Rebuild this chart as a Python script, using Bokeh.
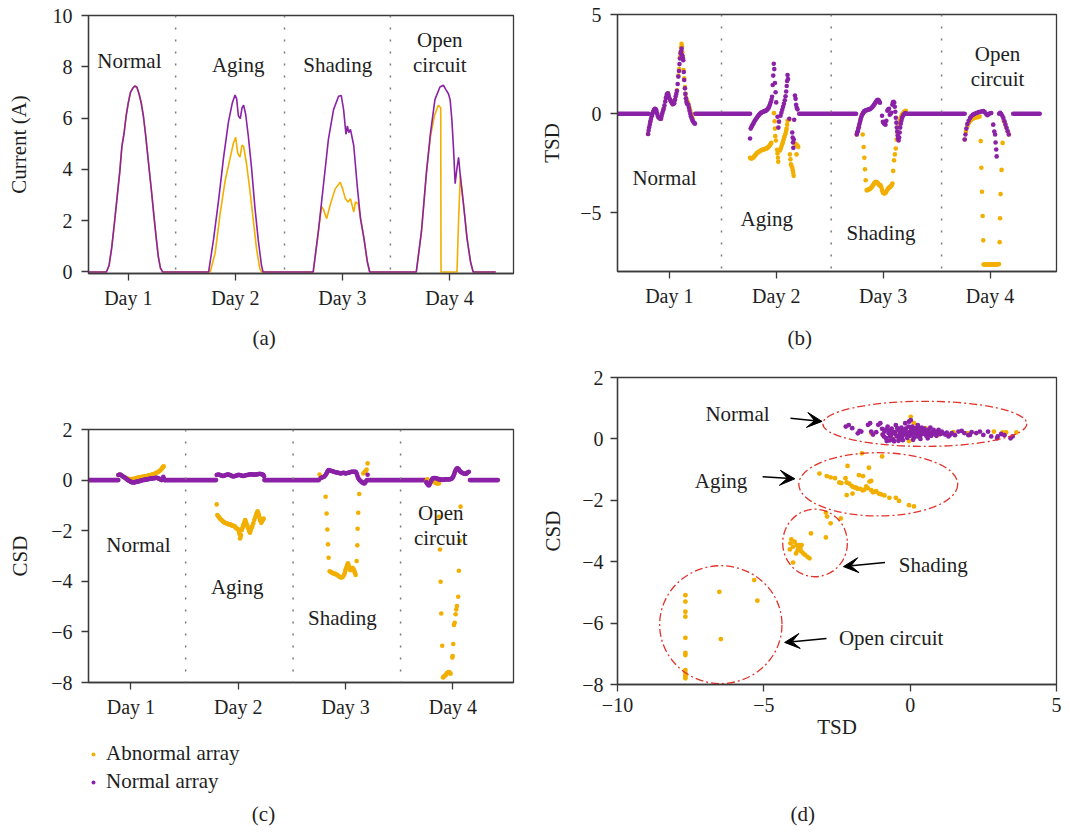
from bokeh.plotting import figure
from bokeh.layouts import row, column
from bokeh.models import (Range1d, FixedTicker, Span, Label, Legend, LegendItem,
                          Arrow, VeeHead, CustomJSTickFormatter, Title)
from bokeh.embed import file_html
from bokeh.resources import INLINE

ORANGE = "#F2AF00"
PURPLE = "#8A21A6"
RED = "#E2332B"
INK = "#1E1E1E"
AXC = "#3A3A3A"
FONT = "Liberation Serif"

series_names = ["Abnormal array", "Normal array"]
day_ticks = [1, 2, 3, 4]
case_names = ["Normal", "Aging", "Shading", "Open circuit"]

# ---------------- (a) current of the two arrays, A ----------------
cur_x_normal = [0.582, 0.795, 0.82, 0.845, 0.87, 0.895, 0.92, 0.94, 0.96, 0.98, 1.00, 1.02, 1.04, 1.06,
                1.08, 1.10, 1.12, 1.14, 1.16, 1.18, 1.20, 1.22, 1.24, 1.26, 1.28, 1.30, 1.32,
                1.750, 1.796, 1.843, 1.889, 1.935, 1.972, 1.997, 2.012, 2.028, 2.046, 2.062, 2.077,
                2.096, 2.120, 2.151, 2.182, 2.213, 2.244, 2.259,
                2.727, 2.775, 2.822, 2.869, 2.917, 2.964, 2.989, 3.011, 3.033, 3.046, 3.059, 3.075,
                3.106, 3.138, 3.169, 3.201, 3.232, 3.255,
                3.690, 3.738, 3.785, 3.823, 3.864, 3.911, 3.943, 3.968, 3.990, 4.006, 4.022, 4.038,
                4.053, 4.069, 4.085, 4.101, 4.132, 4.164, 4.196, 4.221, 4.432]
cur_y_normal = [0, 0, 0.25, 0.95, 1.9, 2.9, 3.9, 4.9, 5.4, 6.1, 6.6, 7.0, 7.15, 7.25,
                7.2, 6.95, 6.6, 6.1, 5.4, 4.6, 3.8, 3.0, 2.15, 1.35, 0.6, 0.15, 0,
                0, 1.27, 2.79, 4.44, 5.84, 6.60, 6.90, 6.75, 6.09, 5.98, 6.40, 6.50,
                6.15, 5.33, 4.06, 2.54, 1.27, 0.25, 0,
                0, 1.57, 3.37, 5.17, 6.33, 6.85, 6.88, 6.33, 5.37, 5.69, 5.43, 5.56,
                4.92, 3.37, 2.08, 1.31, 0.41, 0,
                0, 1.57, 3.89, 5.43, 6.72, 7.21, 7.28, 7.10, 6.95, 6.72, 5.95, 4.79,
                3.44, 4.02, 4.47, 3.76, 2.60, 1.31, 0.41, 0, 0]
cur_x_abnormal = [0.582, 0.795, 0.82, 0.845, 0.87, 0.895, 0.92, 0.94, 0.96, 0.98, 1.00, 1.02, 1.04, 1.06,
                  1.08, 1.10, 1.12, 1.14, 1.16, 1.18, 1.20, 1.22, 1.24, 1.26, 1.28, 1.30, 1.32,
                  1.765, 1.812, 1.858, 1.904, 1.951, 1.981, 2.003, 2.022, 2.043, 2.062, 2.077, 2.105,
                  2.136, 2.167, 2.198, 2.228, 2.244,
                  2.727, 2.775, 2.805, 2.822, 2.853, 2.885, 2.932, 2.980, 3.002, 3.027, 3.052, 3.075,
                  3.106, 3.122, 3.147, 3.169, 3.201, 3.232, 3.255,
                  3.690, 3.738, 3.785, 3.823, 3.860, 3.896, 3.918, 3.921, 4.070, 4.085, 4.101, 4.132,
                  4.164, 4.196, 4.221, 4.432]
cur_y_abnormal = [0, 0, 0.25, 0.95, 1.9, 2.9, 3.9, 4.9, 5.4, 6.1, 6.6, 7.0, 7.15, 7.25,
                  7.2, 6.95, 6.6, 6.1, 5.4, 4.6, 3.8, 3.0, 2.15, 1.35, 0.6, 0.15, 0,
                  0, 0.76, 2.28, 3.55, 4.44, 5.01, 5.25, 4.63, 4.48, 4.95, 4.90, 4.19,
                  3.17, 2.03, 0.89, 0.13, 0,
                  0, 1.57, 2.55, 2.45, 2.08, 2.60, 3.24, 3.50, 3.24, 2.86, 2.73, 2.86,
                  2.34, 2.73, 2.66, 2.08, 1.31, 0.41, 0,
                  0, 1.57, 3.89, 5.30, 6.10, 6.50, 6.40, 0, 0, 2.0, 3.76, 2.60,
                  1.31, 0.41, 0, 0]

# ---------------- (b) TSD ----------------
tsd_zero_spans = [(0.515, 0.807), (1.242, 1.755), (2.215, 2.747), (3.222, 3.763), (4.217, 4.465)]
tsd_normal_d1 = [(0.801, -1.02), (0.806, -0.85), (0.811, -0.70), (0.817, -0.55), (0.822, -0.40), (0.828, -0.27),
                 (0.835, -0.13), (0.841, -0.02), (0.847, 0.08), (0.855, 0.18), (0.863, 0.25), (0.870, 0.24),
                 (0.878, 0.18), (0.885, 0.03), (0.891, -0.10), (0.898, -0.17), (0.906, -0.22), (0.914, -0.25),
                 (0.922, -0.25), (0.928, -0.12), (0.934, 0.03), (0.941, 0.15), (0.947, 0.25), (0.954, 0.42),
                 (0.962, 0.62), (0.968, 0.80), (0.975, 0.95), (0.981, 1.00), (0.987, 1.03), (0.994, 0.90),
                 (1.000, 0.78), (1.008, 0.70), (1.015, 0.62), (1.023, 0.55), (1.031, 0.48), (1.038, 0.50),
                 (1.046, 0.53), (1.053, 0.70), (1.059, 0.87), (1.065, 1.00), (1.071, 1.15), (1.078, 1.50),
                 (1.084, 1.87), (1.090, 2.15), (1.095, 2.50), (1.099, 2.78), (1.105, 3.03), (1.110, 3.15),
                 (1.115, 3.28), (1.121, 2.95), (1.126, 2.80), (1.130, 2.70), (1.135, 2.10), (1.139, 1.70),
                 (1.146, 1.28), (1.150, 1.00), (1.155, 0.78), (1.160, 0.62), (1.164, 0.53), (1.170, 0.48),
                 (1.177, 0.45), (1.183, 0.30), (1.189, 0.15), (1.196, 0.00), (1.202, -0.13), (1.208, -0.22),
                 (1.214, -0.30), (1.220, -0.37), (1.227, -0.43), (1.233, -0.47), (1.239, -0.50)]
tsd_abnormal_d1 = [(0.801, -1.02), (0.822, -0.40), (0.847, 0.08), (0.870, 0.24), (0.898, -0.17), (0.922, -0.25),
                   (0.947, 0.25), (0.968, 0.80), (0.987, 1.03), (1.008, 0.70), (1.031, 0.48), (1.053, 0.70),
                   (1.071, 1.18), (1.084, 1.92), (1.092, 2.25), (1.099, 2.85), (1.105, 3.10), (1.110, 3.35),
                   (1.114, 3.52), (1.118, 3.40), (1.122, 3.10), (1.127, 2.85), (1.133, 2.20), (1.139, 1.78),
                   (1.146, 1.35), (1.152, 1.00), (1.158, 0.78), (1.164, 0.66), (1.170, 0.60), (1.176, 0.52),
                   (1.182, 0.42), (1.188, 0.30), (1.194, 0.18), (1.200, 0.05), (1.206, -0.07), (1.212, -0.17),
                   (1.218, -0.25)]
tsd_normal_d2 = [(1.755, -1.25), (1.761, -0.75), (1.768, -0.67), (1.775, -0.60), (1.782, -0.53), (1.790, -0.45),
                 (1.798, -0.37), (1.806, -0.30), (1.814, -0.24), (1.822, -0.18), (1.830, -0.12), (1.838, -0.06),
                 (1.846, -0.01), (1.854, 0.03), (1.862, 0.06), (1.870, 0.08), (1.878, 0.10), (1.886, 0.12),
                 (1.894, 0.13), (1.902, 0.15), (1.910, 0.18), (1.918, 0.22), (1.926, 0.28), (1.934, 0.36),
                 (1.941, 0.46), (1.948, 0.58), (1.955, 0.70), (1.961, 0.85), (1.967, 1.45), (1.972, 1.92),
                 (1.977, 2.52), (1.982, 2.25), (1.988, 1.55), (1.994, 1.08), (2.000, 0.57), (2.012, -0.15),
                 (2.020, -0.70), (2.026, -0.40), (2.040, -0.10), (2.048, 0.05), (2.056, 0.20), (2.064, 0.35),
                 (2.072, 0.50), (2.080, 0.68), (2.087, 0.88), (2.093, 1.12), (2.098, 1.40), (2.102, 1.65),
                 (2.106, 1.95), (2.110, 1.75), (2.122, -0.25), (2.150, -0.95), (2.154, -1.20), (2.157, -1.45),
                 (2.160, -1.72), (2.164, -1.30), (2.168, -0.30), (2.175, 0.92), (2.181, 0.75), (2.186, 0.45),
                 (2.192, 0.30), (2.199, 0.22)]
tsd_abnormal_d2 = [(1.755, -2.22), (1.763, -2.25), (1.771, -2.25), (1.779, -2.23), (1.786, -2.20), (1.794, -2.15),
                   (1.802, -2.10), (1.810, -2.05), (1.817, -2.00), (1.825, -1.96), (1.833, -1.93), (1.841, -1.90),
                   (1.848, -1.88), (1.856, -1.85), (1.864, -1.83), (1.872, -1.82), (1.880, -1.80), (1.888, -1.79),
                   (1.895, -1.78), (1.903, -1.76), (1.911, -1.75), (1.918, -1.72), (1.926, -1.68), (1.934, -1.63),
                   (1.942, -1.58), (1.948, -1.52), (1.954, -1.47), (1.979, 0.03), (1.985, -0.38), (1.988, -0.75),
                   (1.991, -1.13), (1.997, -1.35), (2.008, -1.82), (2.012, -2.00), (2.016, -2.22), (2.019, -2.42),
                   (2.035, -1.85), (2.043, -1.74), (2.050, -1.63), (2.057, -1.52), (2.063, -1.42), (2.069, -1.30),
                   (2.075, -1.18), (2.082, -1.07), (2.088, -0.97), (2.093, -0.86), (2.097, -0.75), (2.102, -0.55),
                   (2.106, -0.35), (2.122, -0.30), (2.128, -2.05), (2.133, -2.30), (2.138, -2.55), (2.144, -2.65),
                   (2.150, -2.72), (2.155, -2.85), (2.159, -2.97), (2.163, -3.13), (2.178, -1.50), (2.184, -1.55),
                   (2.190, -2.05), (2.193, -1.58), (2.200, -1.62), (2.206, -1.68)]
tsd_normal_d3 = [(2.753, -1.05), (2.758, -0.95), (2.762, -0.88), (2.767, -0.78), (2.772, -0.68), (2.776, -0.57),
                 (2.781, -0.47), (2.786, -0.37), (2.790, -0.27), (2.795, -0.18), (2.800, -0.10), (2.806, -0.03),
                 (2.812, 0.03), (2.818, 0.08), (2.824, 0.13), (2.832, 0.15), (2.840, 0.17), (2.848, 0.18),
                 (2.855, 0.20), (2.863, 0.21), (2.871, 0.22), (2.879, 0.24), (2.887, 0.27), (2.895, 0.31),
                 (2.902, 0.35), (2.909, 0.40), (2.915, 0.45), (2.921, 0.50), (2.927, 0.55), (2.934, 0.60),
                 (2.940, 0.65), (2.945, 0.68), (2.950, 0.70), (2.955, 0.68), (2.960, 0.65), (2.965, 0.60),
                 (2.970, 0.55), (2.990, -0.10), (2.998, -0.40), (3.006, -0.48), (3.014, -0.52), (3.022, -0.55),
                 (3.030, -0.35), (3.040, 0.15), (3.048, 0.22), (3.055, 0.25), (3.062, -0.05), (3.070, 0.00),
                 (3.077, 0.05), (3.086, 0.45), (3.092, 0.58), (3.098, 0.60), (3.104, 0.55), (3.109, 0.35),
                 (3.114, 0.10), (3.119, -0.20), (3.124, -0.45), (3.128, -0.70), (3.132, -0.90), (3.136, -1.10),
                 (3.140, -1.25), (3.145, -1.35), (3.150, -1.20), (3.155, -0.95), (3.160, -0.70), (3.165, -0.50),
                 (3.171, -0.35), (3.177, -0.22), (3.184, -0.12), (3.191, -0.05), (3.198, -0.01), (3.205, 0.02),
                 (3.212, 0.03)]
tsd_abnormal_d3 = [(2.753, -1.05), (2.772, -0.68), (2.790, -0.27), (2.806, -0.03), (2.809, -1.05), (2.818, -1.68),
                   (2.824, -2.22), (2.830, -2.80), (2.837, -3.35), (2.846, -3.85), (2.852, -3.85), (2.858, -3.83),
                   (2.864, -3.82), (2.871, -3.80), (2.877, -3.78), (2.883, -3.76), (2.890, -3.72), (2.896, -3.68),
                   (2.902, -3.63), (2.909, -3.58), (2.915, -3.52), (2.921, -3.48), (2.927, -3.45), (2.933, -3.43),
                   (2.940, -3.45), (2.946, -3.48), (2.952, -3.50), (2.958, -3.55), (2.964, -3.60), (2.970, -3.62),
                   (2.976, -3.60), (2.983, -3.70), (2.990, -3.85), (2.998, -3.97), (3.004, -4.00), (3.011, -4.02),
                   (3.018, -4.00), (3.026, -3.97), (3.034, -3.88), (3.042, -3.80), (3.050, -3.75), (3.057, -3.72),
                   (3.064, -3.70), (3.072, -3.65), (3.079, -3.60), (3.087, -3.52), (3.094, -2.88), (3.102, -2.35),
                   (3.110, -2.05), (3.118, -1.75), (3.126, -1.30), (3.134, -0.97), (3.142, -0.68), (3.150, -0.45),
                   (3.158, -0.30), (3.166, -0.18), (3.174, -0.08), (3.182, 0.00), (3.190, 0.05), (3.198, 0.10),
                   (3.206, 0.13), (3.213, 0.15)]
tsd_normal_d4 = [(3.763, -1.30), (3.770, -1.05), (3.779, -0.75), (3.788, -0.52), (3.800, -0.35), (3.813, -0.22),
                 (3.825, -0.13), (3.838, -0.06), (3.852, -0.02), (3.866, 0.02), (3.880, 0.05), (3.895, 0.08),
                 (3.910, 0.10), (3.925, 0.12), (3.938, 0.13), (3.950, 0.08), (3.962, 0.00), (3.975, -0.08),
                 (3.988, -0.03), (4.000, 0.02), (4.012, 0.04), (4.030, -0.55), (4.040, -0.90), (4.048, -1.05),
                 (4.052, -1.45), (4.058, -1.80), (4.062, -2.15), (4.085, 0.00), (4.095, 0.05), (4.105, -0.02),
                 (4.115, -0.10), (4.125, -0.22), (4.135, -0.38), (4.145, -0.55), (4.155, -0.72), (4.165, -0.88),
                 (4.175, -1.05)]
tsd_abnormal_d4 = [(3.763, -1.30), (3.775, -0.90), (3.788, -0.63), (3.800, -0.48), (3.813, -0.38), (3.825, -0.30),
                   (3.838, -0.25), (3.850, -0.22), (3.862, -0.20), (3.876, -0.18), (3.890, -0.17), (3.903, -0.14),
                   (3.913, -1.38), (3.919, -2.72), (3.925, -3.93), (3.931, -5.15), (3.937, -6.38), (3.940, -7.60),
                   (3.948, -7.60), (3.956, -7.60), (3.964, -7.60), (3.972, -7.60), (3.980, -7.60), (3.988, -7.60),
                   (3.996, -7.60), (4.004, -7.60), (4.012, -7.60), (4.020, -7.60), (4.028, -7.60), (4.036, -7.60),
                   (4.044, -7.60), (4.052, -7.60), (4.060, -7.60), (4.068, -7.59), (4.076, -7.58), (4.084, -7.57),
                   (4.090, -6.47), (4.094, -5.27), (4.099, -4.05), (4.108, -2.83), (4.118, -1.47), (4.128, -0.35),
                   (4.140, -0.50), (4.152, -0.68), (4.165, -0.88), (4.178, -1.05)]

# ---------------- (c) CSD ----------------
csd_zero_spans = [(0.605, 0.883), (1.318, 1.793), (2.243, 2.751), (3.200, 3.739), (4.158, 4.418)]
csd_normal_d1 = [(0.883, 0.20), (0.891, 0.21), (0.899, 0.22), (0.907, 0.20), (0.914, 0.18), (0.922, 0.15),
                 (0.930, 0.13), (0.938, 0.11), (0.945, 0.09), (0.953, 0.06), (0.961, 0.04), (0.969, 0.01),
                 (0.976, -0.01), (0.984, -0.03), (0.992, -0.05), (1.000, -0.07), (1.007, -0.08), (1.015, -0.09),
                 (1.023, -0.09), (1.031, -0.09), (1.038, -0.08), (1.046, -0.07), (1.054, -0.07), (1.062, -0.06),
                 (1.069, -0.05), (1.077, -0.04), (1.085, -0.04), (1.093, -0.02), (1.100, -0.01), (1.108, 0.00),
                 (1.116, 0.00), (1.124, 0.01), (1.131, 0.01), (1.139, 0.02), (1.147, 0.03), (1.155, 0.03),
                 (1.163, 0.04), (1.170, 0.05), (1.178, 0.05), (1.186, 0.06), (1.194, 0.07), (1.202, 0.07),
                 (1.209, 0.07), (1.217, 0.08), (1.225, 0.08), (1.233, 0.09), (1.240, 0.09), (1.248, 0.08),
                 (1.256, 0.07), (1.264, 0.05), (1.271, 0.04), (1.279, 0.02), (1.287, 0.00), (1.295, 0.05),
                 (1.302, 0.13), (1.308, 0.05), (1.314, 0.00)]
csd_abnormal_d1 = [(0.883, 0.20), (0.899, 0.22), (0.914, 0.18), (0.930, 0.13), (0.945, 0.10), (0.961, 0.07),
                   (0.976, 0.05), (0.992, 0.04), (1.007, 0.04), (1.023, 0.05), (1.038, 0.06), (1.054, 0.08),
                   (1.062, 0.09), (1.069, 0.10), (1.077, 0.10), (1.085, 0.11), (1.093, 0.12), (1.100, 0.12),
                   (1.108, 0.13), (1.116, 0.13), (1.124, 0.14), (1.131, 0.15), (1.139, 0.15), (1.147, 0.16),
                   (1.155, 0.17), (1.163, 0.18), (1.170, 0.18), (1.178, 0.19), (1.186, 0.20), (1.194, 0.21),
                   (1.202, 0.22), (1.209, 0.23), (1.217, 0.24), (1.225, 0.26), (1.233, 0.27), (1.240, 0.29),
                   (1.248, 0.31), (1.256, 0.33), (1.264, 0.35), (1.271, 0.38), (1.279, 0.41), (1.287, 0.45),
                   (1.292, 0.48), (1.296, 0.50), (1.301, 0.53), (1.305, 0.55)]
csd_normal_d2 = [(1.799, 0.20), (1.807, 0.21), (1.815, 0.22), (1.823, 0.21), (1.830, 0.20), (1.838, 0.19),
                 (1.846, 0.17), (1.854, 0.16), (1.861, 0.16), (1.869, 0.17), (1.877, 0.19), (1.885, 0.20),
                 (1.892, 0.21), (1.900, 0.22), (1.908, 0.22), (1.915, 0.21), (1.923, 0.20), (1.931, 0.18),
                 (1.939, 0.17), (1.946, 0.15), (1.954, 0.14), (1.962, 0.15), (1.970, 0.16), (1.977, 0.17),
                 (1.985, 0.18), (1.993, 0.19), (2.001, 0.21), (2.008, 0.20), (2.016, 0.20), (2.024, 0.19),
                 (2.032, 0.17), (2.039, 0.16), (2.047, 0.16), (2.055, 0.17), (2.063, 0.18), (2.070, 0.19),
                 (2.078, 0.20), (2.086, 0.20), (2.094, 0.21), (2.101, 0.22), (2.109, 0.22), (2.117, 0.23),
                 (2.125, 0.23), (2.132, 0.22), (2.140, 0.22), (2.148, 0.21), (2.156, 0.22), (2.163, 0.22),
                 (2.171, 0.22), (2.179, 0.23), (2.187, 0.24), (2.194, 0.24), (2.202, 0.25), (2.210, 0.24),
                 (2.218, 0.23), (2.225, 0.22), (2.233, 0.21), (2.240, 0.15)]
csd_abnormal_d2 = [(1.799, -0.96), (1.805, -1.38), (1.812, -1.42), (1.818, -1.45), (1.824, -1.49), (1.830, -1.53),
                   (1.838, -1.56), (1.846, -1.58), (1.854, -1.62), (1.861, -1.65), (1.869, -1.67), (1.877, -1.69),
                   (1.885, -1.70), (1.892, -1.71), (1.900, -1.73), (1.908, -1.74), (1.915, -1.75), (1.923, -1.75),
                   (1.931, -1.77), (1.939, -1.78), (1.946, -1.80), (1.954, -1.81), (1.962, -1.82), (1.970, -1.84),
                   (1.977, -1.88), (1.985, -1.91), (1.993, -1.93), (2.001, -1.95), (2.006, -2.05), (2.011, -2.13),
                   (2.016, -2.31), (2.021, -2.25), (2.026, -2.17), (2.032, -1.98), (2.036, -1.92), (2.041, -1.87),
                   (2.047, -1.78), (2.054, -1.71), (2.059, -1.65), (2.064, -1.58), (2.069, -1.63), (2.073, -1.69),
                   (2.079, -1.75), (2.085, -1.82), (2.091, -1.88), (2.097, -1.95), (2.103, -2.02), (2.109, -2.08),
                   (2.115, -2.00), (2.120, -1.92), (2.126, -1.87), (2.131, -1.82), (2.140, -1.71), (2.149, -1.58),
                   (2.159, -1.48), (2.165, -1.40), (2.171, -1.32), (2.176, -1.27), (2.180, -1.23), (2.187, -1.30),
                   (2.193, -1.38), (2.198, -1.48), (2.202, -1.58), (2.208, -1.63), (2.215, -1.69), (2.222, -1.63),
                   (2.227, -1.58), (2.232, -1.55), (2.236, -1.52)]
csd_normal_d3 = [(2.767, 0.07), (2.775, 0.09), (2.783, 0.11), (2.791, 0.12), (2.798, 0.13), (2.806, 0.16),
                 (2.814, 0.20), (2.820, 0.25), (2.826, 0.29), (2.831, 0.33), (2.836, 0.37), (2.841, 0.39),
                 (2.845, 0.40), (2.853, 0.38), (2.860, 0.37), (2.868, 0.36), (2.876, 0.36), (2.884, 0.34),
                 (2.891, 0.33), (2.899, 0.32), (2.907, 0.31), (2.915, 0.30), (2.923, 0.30), (2.930, 0.29),
                 (2.938, 0.28), (2.946, 0.27), (2.954, 0.26), (2.962, 0.27), (2.969, 0.28), (2.977, 0.29),
                 (2.985, 0.29), (2.993, 0.27), (3.000, 0.26), (3.008, 0.27), (3.016, 0.28), (3.024, 0.29),
                 (3.031, 0.29), (3.039, 0.31), (3.047, 0.32), (3.055, 0.33), (3.063, 0.33), (3.070, 0.33),
                 (3.078, 0.33), (3.086, 0.33), (3.093, 0.33), (3.098, 0.30), (3.103, 0.26), (3.108, 0.20),
                 (3.112, 0.13), (3.118, 0.08), (3.124, 0.03), (3.132, -0.01), (3.140, -0.04), (3.148, -0.07),
                 (3.155, -0.09), (3.163, -0.11), (3.171, -0.13), (3.176, -0.12), (3.180, -0.11), (3.187, -0.07),
                 (3.193, -0.03), (3.205, 0.21)]
csd_abnormal_d3 = [(2.757, 0.22), (2.767, 0.10), (2.783, 0.11), (2.798, 0.13), (2.814, -0.66), (2.823, -1.32),
                   (2.830, -1.95), (2.836, -2.54), (2.842, -3.07), (2.851, -3.60), (2.859, -3.62), (2.867, -3.64),
                   (2.875, -3.66), (2.882, -3.68), (2.890, -3.69), (2.898, -3.69), (2.906, -3.71), (2.913, -3.73),
                   (2.921, -3.75), (2.929, -3.77), (2.937, -3.80), (2.944, -3.82), (2.952, -3.84), (2.960, -3.85),
                   (2.968, -3.84), (2.975, -3.82), (2.983, -3.76), (2.991, -3.69), (2.996, -3.61), (3.000, -3.53),
                   (3.007, -3.46), (3.013, -3.40), (3.018, -3.34), (3.022, -3.29), (3.027, -3.36), (3.031, -3.43),
                   (3.038, -3.50), (3.044, -3.56), (3.049, -3.52), (3.053, -3.49), (3.063, -3.47), (3.069, -3.50),
                   (3.075, -3.53), (3.080, -3.58), (3.084, -3.62), (3.089, -3.68), (3.093, -3.75), (3.103, -3.20),
                   (3.109, -2.58), (3.112, -1.92), (3.118, -1.29), (3.127, -0.55), (3.165, 0.26), (3.172, 0.29),
                   (3.180, 0.33), (3.188, 0.37), (3.196, 0.42), (3.205, 0.66)]
csd_normal_d4 = [(3.751, -0.08), (3.757, -0.12), (3.764, -0.16), (3.770, -0.19), (3.776, -0.21), (3.783, -0.16),
                 (3.789, -0.11), (3.795, -0.05), (3.801, 0.00), (3.807, 0.04), (3.813, 0.07), (3.821, 0.08),
                 (3.829, 0.08), (3.837, 0.08), (3.845, 0.07), (3.853, 0.06), (3.860, 0.04), (3.868, 0.03),
                 (3.876, 0.03), (3.884, 0.02), (3.892, 0.02), (3.900, 0.01), (3.907, 0.01), (3.915, 0.02),
                 (3.923, 0.02), (3.930, 0.03), (3.938, 0.03), (3.946, 0.03), (3.954, 0.03), (3.962, 0.03),
                 (3.970, 0.03), (3.978, 0.04), (3.986, 0.05), (3.993, 0.07), (4.000, 0.12), (4.006, 0.17),
                 (4.010, 0.22), (4.015, 0.28), (4.019, 0.33), (4.024, 0.38), (4.028, 0.42), (4.034, 0.45),
                 (4.040, 0.47), (4.045, 0.46), (4.049, 0.45), (4.054, 0.43), (4.058, 0.40), (4.064, 0.36),
                 (4.071, 0.33), (4.078, 0.31), (4.086, 0.29), (4.094, 0.27), (4.102, 0.26), (4.110, 0.25),
                 (4.117, 0.24), (4.125, 0.25), (4.133, 0.29), (4.140, 0.31), (4.148, 0.33)]
csd_abnormal_d4 = [(3.751, -0.05), (3.761, 0.03), (3.776, -0.10), (3.800, 0.00), (3.823, -0.07), (3.834, -0.10),
                   (3.845, -0.12), (3.854, -0.13), (3.863, -0.13), (3.870, -0.12), (3.869, -1.45), (3.879, -2.74),
                   (3.885, -4.02), (3.891, -5.27), (3.900, -6.55), (3.907, -7.80), (3.913, -7.78), (3.919, -7.75),
                   (3.925, -7.73), (3.931, -7.71), (3.938, -7.67), (3.944, -7.64), (3.950, -7.62), (3.956, -7.60),
                   (3.962, -7.59), (3.968, -7.60), (3.978, -7.65), (3.994, -7.01), (3.997, -6.95), (4.003, -6.48),
                   (4.009, -5.73), (4.016, -5.64), (4.025, -5.30), (4.031, -5.11), (4.037, -4.98), (4.049, -4.61),
                   (4.055, -3.58), (4.064, -2.40), (4.071, -1.05)]

# ---------------- (d) TSD vs CSD ----------------
scatter_normal = [(-2.20, 0.40), (-2.10, 0.45), (-1.98, 0.35), (-1.79, 0.18), (-1.73, 0.26), (-1.67, 0.24),
                  (-1.44, 0.46), (-1.37, 0.51), (-1.33, 0.24), (-1.27, 0.14), (-1.16, 0.22), (-1.09, 0.46),
                  (-1.02, 0.51), (-0.96, 0.33), (-0.94, 0.14), (-0.90, 0.08), (-0.88, 0.24), (-0.85, 0.30),
                  (-0.83, 0.03), (-0.80, -0.07), (-0.77, 0.40), (-0.74, 0.19), (-0.72, 0.28), (-0.70, -0.05),
                  (-0.69, 0.08), (-0.66, 0.12), (-0.63, 0.33), (-0.60, 0.20), (-0.58, -0.02), (-0.55, -0.08),
                  (-0.53, 0.22), (-0.50, 0.15), (-0.49, 0.45), (-0.45, 0.08), (-0.44, 0.35), (-0.41, 0.29),
                  (-0.40, -0.06), (-0.38, -0.02), (-0.36, 0.10), (-0.34, 0.19), (-0.32, 0.25), (-0.30, 0.37),
                  (-0.27, 0.08), (-0.25, -0.04), (-0.23, 0.24), (-0.20, 0.15), (-0.18, 0.30), (-0.17, 0.51),
                  (-0.15, 0.33), (-0.13, 0.14), (-0.10, 0.03), (-0.08, 0.20), (-0.06, 0.40), (-0.04, 0.56),
                  (-0.01, 0.24), (0.00, 0.10), (0.02, 0.61), (0.04, 0.32), (0.05, 0.14), (0.07, 0.40),
                  (0.08, 0.22), (0.10, -0.03), (0.11, 0.29), (0.14, 0.05), (0.15, 0.18), (0.18, 0.35),
                  (0.20, 0.28), (0.22, 0.19), (0.25, 0.08), (0.26, 0.45), (0.28, 0.36), (0.30, 0.26),
                  (0.33, 0.22), (0.34, 0.12), (0.35, 0.00), (0.39, 0.37), (0.40, 0.15), (0.43, 0.24),
                  (0.45, 0.30), (0.48, 0.33), (0.50, 0.22), (0.52, 0.16), (0.55, 0.10), (0.58, 0.26),
                  (0.60, 0.02), (0.62, 0.30), (0.63, 0.14), (0.66, 0.20), (0.69, 0.37), (0.72, 0.10),
                  (0.75, 0.22), (0.78, 0.18), (0.80, 0.29), (0.83, 0.22), (0.86, 0.14), (0.90, 0.10),
                  (0.92, 0.24), (0.97, 0.29), (1.00, 0.20), (1.03, 0.16), (1.08, 0.24), (1.12, 0.18),
                  (1.20, 0.14), (1.25, 0.20), (1.31, 0.08), (1.38, 0.14), (1.42, 0.19), (1.53, 0.12),
                  (1.65, 0.24), (1.76, 0.26), (1.85, 0.19), (1.99, 0.12), (2.04, 0.13), (2.10, 0.22),
                  (2.26, 0.19), (2.38, 0.24), (2.50, 0.13), (2.66, 0.24), (2.77, 0.08), (2.97, 0.02),
                  (2.99, 0.08), (3.11, 0.16), (3.22, 0.12), (3.43, 0.02), (3.50, 0.08)]
scatter_abnormal = [(0.02, 0.72), (-0.02, 0.58), (0.13, 0.51), (-0.38, 0.26), (-0.60, 0.01), (-0.94, 0.14),
                    (-1.33, 0.19), (-0.04, -0.07), (0.52, 0.35), (0.97, 0.14), (1.48, 0.22), (1.96, 0.19),
                    (2.26, 0.19), (2.86, 0.24), (3.16, 0.21), (3.28, 0.21), (3.63, 0.21),
                    (-1.65, -0.47), (-0.96, -0.57), (-2.14, -0.88), (-1.41, -0.94), (-3.10, -1.13), (-2.85, -1.21),
                    (-2.72, -1.25), (-2.57, -1.28), (-2.42, -1.42), (-2.35, -1.44), (-2.21, -1.28), (-2.17, -1.42),
                    (-2.08, -1.46), (-2.00, -1.53), (-1.95, -1.57), (-1.88, -1.58), (-1.84, -1.60), (-1.80, -1.62),
                    (-1.75, -1.18), (-1.61, -1.21), (-1.70, -1.63), (-1.62, -1.68), (-1.56, -1.65), (-1.50, -1.55),
                    (-1.45, -1.60), (-1.39, -1.39), (-1.33, -1.37), (-1.33, -1.67), (-1.27, -1.74), (-1.20, -1.72),
                    (-1.16, -1.70), (-1.07, -1.78), (-0.99, -1.81), (-2.17, -1.83), (-1.97, -1.78), (-0.88, -1.84),
                    (-0.71, -1.92), (-0.49, -1.92), (-0.38, -2.02), (-0.04, -2.16), (0.13, -2.20),
                    (-4.06, -3.27), (-4.09, -3.40), (-4.00, -3.51), (-3.95, -3.35), (-3.88, -3.46), (-3.82, -3.57),
                    (-3.79, -3.46), (-3.77, -3.62), (-3.75, -3.55), (-3.71, -3.67), (-3.71, -3.46), (-3.65, -3.73),
                    (-3.59, -3.78), (-3.51, -3.84), (-3.44, -3.89), (-3.85, -3.64), (-3.90, -3.73), (-4.11, -3.60),
                    (-4.00, -4.03), (-3.39, -3.08), (-2.88, -3.21), (-2.88, -2.40), (-2.84, -2.53), (-2.72, -2.75),
                    (-2.37, -2.59),
                    (-7.68, -5.09), (-7.68, -5.30), (-7.68, -5.63), (-7.68, -5.79), (-7.68, -6.48), (-7.68, -6.97),
                    (-7.68, -7.04), (-7.68, -7.53), (-7.68, -7.62), (-7.68, -7.70), (-7.68, -7.75), (-7.68, -7.80),
                    (-6.52, -4.98), (-6.47, -6.52), (-5.33, -4.60), (-5.22, -5.27)]


def xs(pts):
    return [a for a, b in pts]


def ys(pts):
    return [b for a, b in pts]


MINUS_FMT = CustomJSTickFormatter(code="return tick < 0 ? '\\u2212' + Math.abs(tick) : String(tick);")
DAY_FMT = CustomJSTickFormatter(code="return 'Day ' + tick;")


def make_fig(w, h, L, R, T, B, xr, yr):
    p = figure(width=w, height=h, x_range=Range1d(*xr), y_range=Range1d(*yr),
               output_backend="svg", toolbar_location=None,
               min_border_left=L, min_border_right=R, min_border_top=T, min_border_bottom=B)
    p.xgrid.visible = False
    p.ygrid.visible = False
    p.outline_line_color = AXC
    p.outline_line_width = 1.3
    p.outline_line_alpha = 1.0
    p.background_fill_color = "white"
    p.border_fill_color = "white"
    for ax in p.axis:
        ax.axis_line_color = AXC
        ax.axis_line_width = 1.3
        ax.major_tick_line_color = AXC
        ax.major_tick_line_width = 1.3
        ax.major_tick_out = 7
        ax.major_tick_in = 0
        ax.minor_tick_line_color = None
        ax.major_label_text_font = FONT
        ax.major_label_text_font_size = "20px"
        ax.major_label_text_color = INK
        ax.axis_label_text_font = FONT
        ax.axis_label_text_font_size = "21px"
        ax.axis_label_text_font_style = "normal"
        ax.axis_label_text_color = INK
    p.xaxis.major_label_standoff = 6
    p.yaxis.major_label_standoff = 9
    return p


def txt(p, x, y, s, align="center", baseline="alphabetic"):
    p.add_layout(Label(x=x, y=y, text=s, text_font=FONT, text_font_size="21px",
                       text_color=INK, text_align=align, text_baseline=baseline))


def spacer(p, gap):
    p.add_layout(Title(text=" ", text_font_size="2px", standoff=gap), "below")


def caption(p, offset, s):
    p.add_layout(Title(text=s, align="left", offset=offset, standoff=0, text_font=FONT,
                       text_font_size="21px", text_font_style="normal", text_color=INK), "below")


def dividers(p, locs):
    for loc in locs:
        p.add_layout(Span(location=loc, dimension="height", line_color="#7A7A7A",
                          line_dash="2 10", line_width=1.5))


def day_axis(p):
    p.xaxis.ticker = FixedTicker(ticks=day_ticks)
    p.xaxis.formatter = DAY_FMT


# left-column frames share the same left/right edge (88 .. 513 px)
# ---------- panel (a) ----------
pa = make_fig(530, 400, 88, 17, 15, 127, (0.628, 4.598), (-0.06, 10))
day_axis(pa)
pa.yaxis.ticker = FixedTicker(ticks=[0, 2, 4, 6, 8, 10])
pa.yaxis.axis_label = "Current (A)"
pa.yaxis.axis_label_standoff = 19
dividers(pa, [1.442, 2.459, 3.448])
pa.line(cur_x_abnormal, cur_y_abnormal, line_color=ORANGE, line_width=1.6)
pa.line(cur_x_normal, cur_y_normal, line_color=PURPLE, line_width=1.6)
txt(pa, 1.01, 8.22, case_names[0])
txt(pa, 2.026, 8.07, case_names[1])
txt(pa, 2.956, 8.07, case_names[2])
txt(pa, 3.91, 9.06, "Open")
txt(pa, 3.91, 8.07, "circuit")
spacer(pa, 8)
caption(pa, 164, "(a)")

# ---------- panel (b) ----------
pb = make_fig(532, 365, 87, 6, 14, 94, (0.515, 4.622), (-7.95, 5))
day_axis(pb)
pb.yaxis.ticker = FixedTicker(ticks=[-5, 0, 5])
pb.yaxis.formatter = MINUS_FMT
pb.yaxis.axis_label = "TSD"
pb.yaxis.axis_label_standoff = 13
dividers(pb, [1.488, 2.514, 3.547])
pb.segment([a for a, b in tsd_zero_spans], [0] * len(tsd_zero_spans),
           [b for a, b in tsd_zero_spans], [0] * len(tsd_zero_spans),
           line_color=PURPLE, line_width=4.6, line_cap="round")
for d in [tsd_abnormal_d1, tsd_abnormal_d2, tsd_abnormal_d3, tsd_abnormal_d4]:
    pb.scatter(xs(d), ys(d), size=4.6, fill_color=ORANGE, line_color=None)
for d in [tsd_normal_d1, tsd_normal_d2, tsd_normal_d3, tsd_normal_d4]:
    pb.scatter(xs(d), ys(d), size=4.6, fill_color=PURPLE, line_color=None)
txt(pb, 0.955, -3.23, case_names[0])
txt(pb, 1.911, -5.3, case_names[1])
txt(pb, 2.98, -6.0, case_names[2])
txt(pb, 4.07, 3.0, "Open")
txt(pb, 4.07, 1.73, "circuit")
spacer(pb, 10)
caption(pb, 170, "(b)")

# ---------- panel (c) ----------
pc = make_fig(530, 322, 88, 17, 29, 40, (0.605, 4.564), (-8, 2))
day_axis(pc)
pc.yaxis.ticker = FixedTicker(ticks=[-8, -6, -4, -2, 0, 2])
pc.yaxis.formatter = MINUS_FMT
pc.yaxis.axis_label = "CSD"
pc.yaxis.axis_label_standoff = 16
dividers(pc, [1.510, 2.511, 3.512])
pc.segment([a for a, b in csd_zero_spans], [0] * len(csd_zero_spans),
           [b for a, b in csd_zero_spans], [0] * len(csd_zero_spans),
           line_color=PURPLE, line_width=4.6, line_cap="round")
for d in [csd_abnormal_d1, csd_abnormal_d2, csd_abnormal_d3, csd_abnormal_d4]:
    pc.scatter(xs(d), ys(d), size=4.6, fill_color=ORANGE, line_color=None)
for d in [csd_normal_d1, csd_normal_d2, csd_normal_d3, csd_normal_d4]:
    pc.scatter(xs(d), ys(d), size=4.6, fill_color=PURPLE, line_color=None)
txt(pc, 1.07, -2.57, case_names[0])
txt(pc, 1.99, -4.21, case_names[1])
txt(pc, 2.97, -5.46, case_names[2])
txt(pc, 3.886, -1.32, "Open")
txt(pc, 3.886, -2.30, "circuit")

# legend strip and caption under panel (c); its frame is aligned with the (c) frame,
# and its ranges are expressed in page pixels of that strip
LEG_H = 105
pl = figure(width=530, height=LEG_H, x_range=Range1d(88, 513), y_range=Range1d(0, LEG_H),
            output_backend="svg", toolbar_location=None, x_axis_type=None, y_axis_type=None,
            min_border_left=88, min_border_right=17, min_border_top=0, min_border_bottom=0)
pl.outline_line_color = None
pl.background_fill_color = "white"
pl.border_fill_color = "white"
# same CSD series as panel (c); they fall outside this strip's ranges, only the legend keys show
key_abn = pl.scatter(xs(csd_abnormal_d1), ys(csd_abnormal_d1), size=4.6, fill_color=ORANGE, line_color=None)
key_nrm = pl.scatter(xs(csd_normal_d1), ys(csd_normal_d1), size=4.6, fill_color=PURPLE, line_color=None)
legend = Legend(items=[LegendItem(label=series_names[0], renderers=[key_abn]),
                       LegendItem(label=series_names[1], renderers=[key_nrm])],
                location=(0, 33), orientation="vertical",
                label_text_font=FONT, label_text_font_size="21px", label_text_color=INK,
                glyph_width=10, glyph_height=20, label_height=20, spacing=3,
                padding=0, margin=0, label_standoff=8,
                border_line_alpha=0, background_fill_alpha=0)
pl.add_layout(legend)
txt(pl, 263, 14, "(c)", baseline="middle")

# ---------- panel (d) ----------
pd_ = make_fig(532, 462, 87, 4, 12, 143, (-10, 5), (-8, 2))
pd_.xaxis.ticker = FixedTicker(ticks=[-10, -5, 0, 5])
pd_.xaxis.formatter = MINUS_FMT
pd_.yaxis.ticker = FixedTicker(ticks=[-8, -6, -4, -2, 0, 2])
pd_.yaxis.formatter = MINUS_FMT
pd_.yaxis.major_label_standoff = 7
pd_.xaxis.axis_label = "TSD"
pd_.xaxis.axis_label_standoff = 0
pd_.yaxis.axis_label = "CSD"
pd_.yaxis.axis_label_standoff = 14
pd_.scatter(xs(scatter_abnormal), ys(scatter_abnormal), size=4.8, fill_color=ORANGE, line_color=None)
pd_.scatter(xs(scatter_normal), ys(scatter_normal), size=4.8, fill_color=PURPLE, line_color=None)
# cluster outlines (centre x, centre y, width, height)
clusters = [(0.50, 0.49, 6.97, 1.47), (-1.09, -1.48, 5.43, 2.06), (-3.25, -3.39, 2.21, 2.2), (-6.47, -6.05, 4.18, 3.84)]
pd_.ellipse([c[0] for c in clusters], [c[1] for c in clusters], width=[c[2] for c in clusters],
            height=[c[3] for c in clusters], fill_alpha=0, line_color=RED, line_width=1.3,
            line_dash="8 3 2 3")
arrows = [(-4.09, 0.67, -3.01, 0.57), (-5.04, -1.23, -3.94, -1.30), (-0.86, -4.03, -2.28, -4.16),
          (-2.86, -6.50, -4.29, -6.63)]
for (x0, y0, x1, y1) in arrows:
    pd_.add_layout(Arrow(end=VeeHead(size=15, fill_color="black", line_color="black"),
                         x_start=x0, y_start=y0, x_end=x1, y_end=y1,
                         line_color="black", line_width=1.5))
txt(pd_, -5.90, 0.80, case_names[0])
txt(pd_, -6.46, -1.36, case_names[1])
txt(pd_, 0.79, -4.11, case_names[2])
txt(pd_, -0.65, -6.5, case_names[3])
spacer(pd_, 54)
caption(pd_, 173, "(d)")

layout = row(column(pa, pc, pl), column(pb, pd_))
open("out.html", "w").write(file_html(layout, INLINE))
